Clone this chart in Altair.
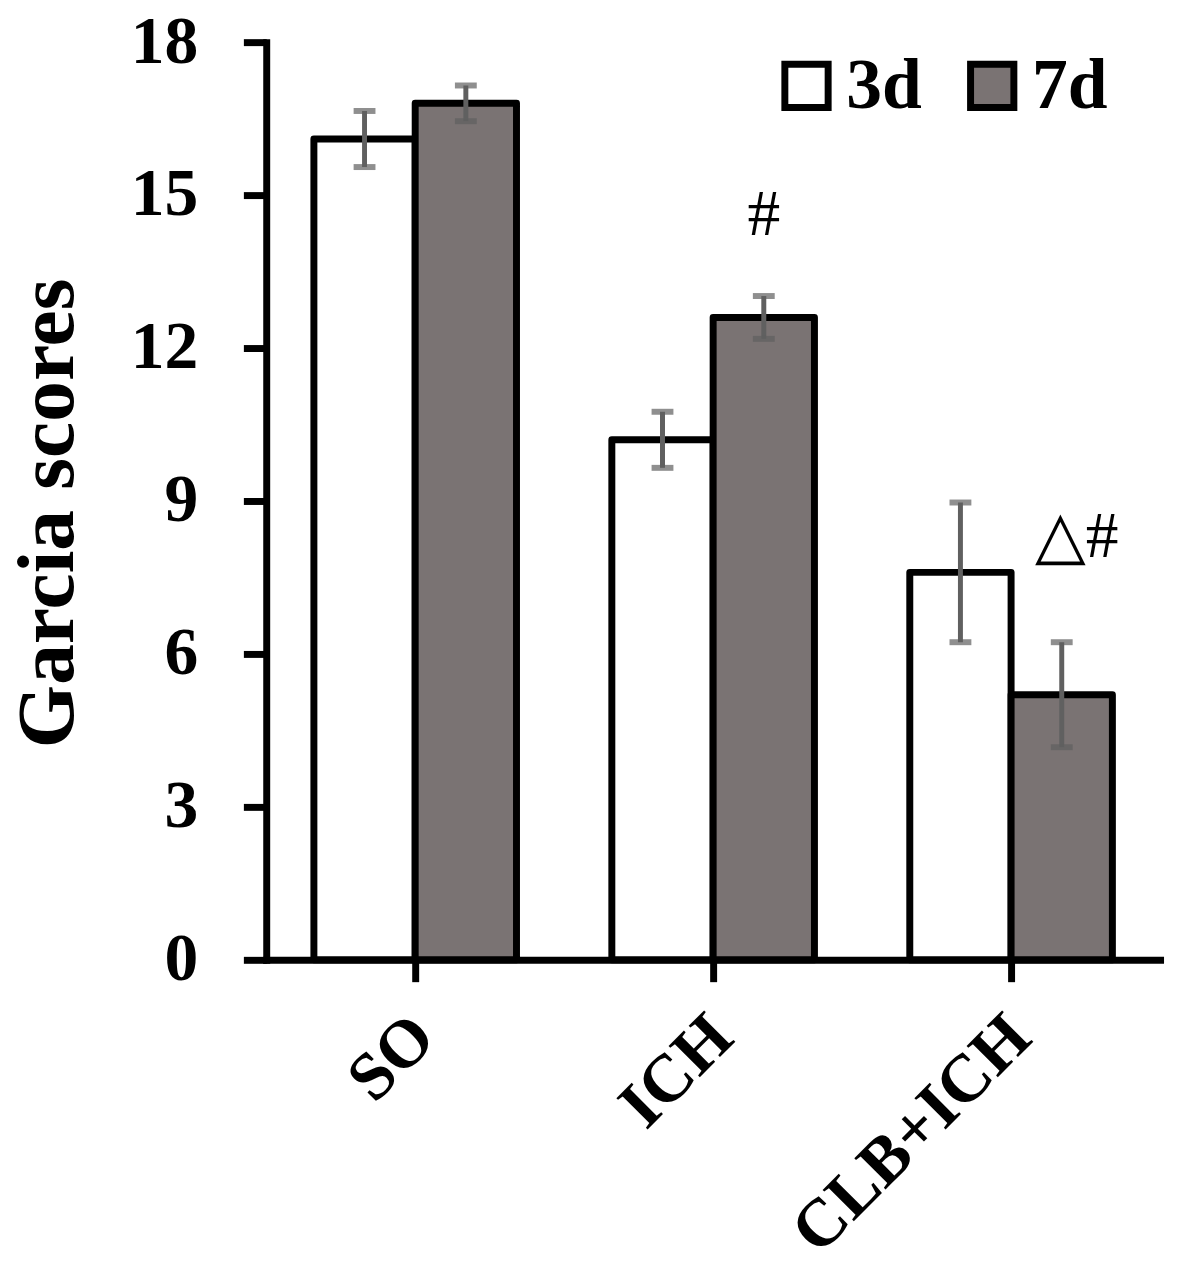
import altair as alt
import pandas as pd

groups = ["SO", "ICH", "CLB+ICH"]
series = ["3d", "7d"]
means_3d = [16.1, 10.2, 7.6]
means_7d = [16.8, 12.6, 5.2]
err_3d = [0.55, 0.55, 1.37]
err_7d = [0.35, 0.42, 1.03]
y_ticks = [0, 3, 6, 9, 12, 15, 18]

annot_group = ["ICH", "CLB+ICH"]
annot_series = ["7d", "7d"]
annot_text = ["#", "△#"]
annot_y = [14.6, 8.3]

rows = []
for i, g in enumerate(groups):
    rows.append({"group": g, "series": "3d", "mean": means_3d[i], "err": err_3d[i]})
    rows.append({"group": g, "series": "7d", "mean": means_7d[i], "err": err_7d[i]})
df = pd.DataFrame(rows)
df["lo"] = df["mean"] - df["err"]
df["hi"] = df["mean"] + df["err"]

adf = pd.DataFrame({"group": annot_group, "series": annot_series,
                    "label": annot_text, "y": annot_y})

FONT = "Liberation Serif"
ERR_COLOR = "#606060"

x_enc = alt.X("group:N", sort=groups,
              scale=alt.Scale(paddingInner=0.32, paddingOuter=0.16),
              axis=alt.Axis(title=None, labelAngle=-45, labelFontSize=68,
                            labelPadding=45, tickSize=22, labelAlign="right",
                            labelBaseline="middle", labelLimit=0,
                            labelOffset=9))
xo_enc = alt.XOffset("series:N", sort=series,
                     scale=alt.Scale(paddingInner=0, paddingOuter=0))
y_scale = alt.Scale(domain=[0, 18], nice=False, zero=True)

base = alt.Chart(df).encode(x=x_enc, xOffset=xo_enc)

bars = base.mark_bar(stroke="black", strokeWidth=7, strokeJoin="round").encode(
    y=alt.Y("mean:Q", scale=y_scale,
            axis=alt.Axis(values=y_ticks, title="Garcia scores", tickSize=23,
                          labelPadding=46, labelFontSize=68, grid=False,
                          titleFontSize=82, titleX=-220, titleY=474,
                          titleAngle=-90, titleAlign="center",
                          titleBaseline="middle")),
    fill=alt.Fill("series:N", sort=series,
                  scale=alt.Scale(domain=series, range=["white", "#7a7373"]),
                  legend=alt.Legend(title=None, orient="none", legendX=508,
                                    legendY=8, direction="horizontal",
                                    symbolType="square", symbolSize=1900,
                                    symbolStrokeColor="black",
                                    symbolStrokeWidth=7,
                                    labelFont=FONT, labelFontSize=72,
                                    labelFontWeight="bold", labelColor="black",
                                    columnPadding=34, labelOffset=4)),
)

rules = base.mark_rule(color=ERR_COLOR, strokeWidth=5).encode(
    y=alt.Y("lo:Q", scale=y_scale), y2="hi:Q")
cap_hi = base.mark_tick(color=ERR_COLOR, thickness=6, size=22).encode(
    y=alt.Y("hi:Q", scale=y_scale))
cap_lo = base.mark_tick(color=ERR_COLOR, thickness=6, size=22).encode(
    y=alt.Y("lo:Q", scale=y_scale))

abase = alt.Chart(adf).encode(
    x=alt.X("group:N", sort=groups), xOffset=alt.XOffset("series:N", sort=series),
    y=alt.Y("y:Q", scale=y_scale), text="label:N")
ann1 = abase.transform_filter(alt.datum.label == "#").mark_text(
    font=FONT, fontSize=66, color="black", baseline="middle")
ann2 = abase.transform_filter(alt.datum.label != "#").mark_text(
    font=FONT, fontSize=66, color="black", baseline="middle", dx=15)

chart = alt.layer(bars, rules, cap_hi, cap_lo, ann1, ann2).properties(
    width=900, height=924,
    autosize=alt.AutoSizeParams(type="none"),
    padding={"left": 260, "top": 30, "right": 9, "bottom": 318},
    background="white",
).configure_view(stroke=None).configure_axis(
    labelFont=FONT, labelFontWeight="bold", labelColor="black",
    titleFont=FONT, titleFontWeight="bold", titleColor="black",
    domainColor="black", domainWidth=7, tickColor="black", tickWidth=7,
    domainCap="square", grid=False,
)

chart.save("out.html", embed_options={"renderer": "svg", "actions": False})
